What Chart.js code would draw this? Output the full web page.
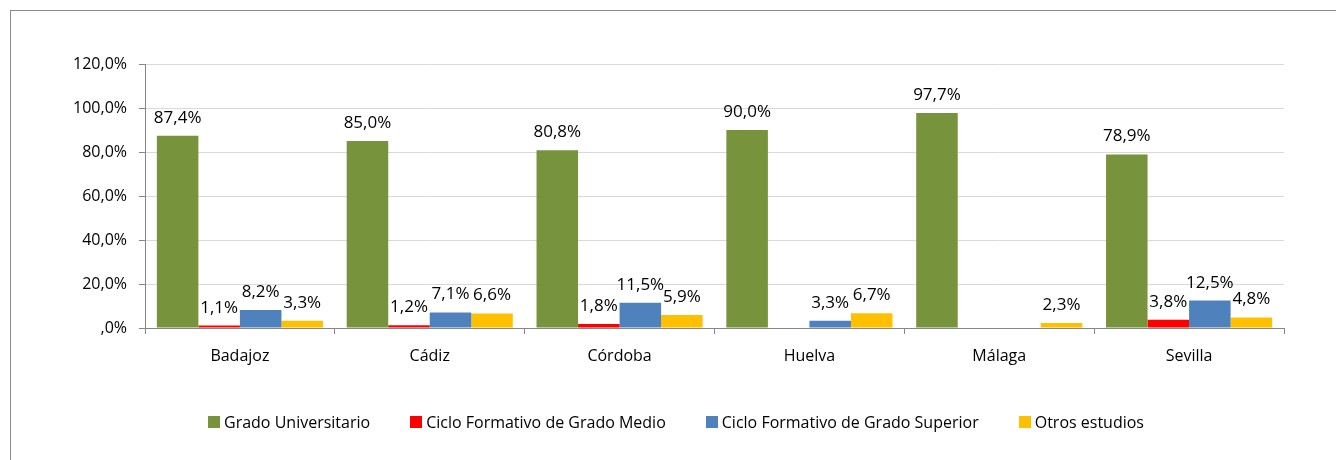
<!DOCTYPE html>
<html>
<head>
<meta charset="utf-8">
<script src="https://cdn.jsdelivr.net/npm/chart.js@4.4.1/dist/chart.umd.min.js"></script>
<style>
  html, body { margin: 0; padding: 0; background: #fff; overflow: hidden; }
  #wrap { position: absolute; left: 0; top: 0; width: 1336px; height: 460px; }
  #frame { position: absolute; left: 10px; top: 10px; width: 1400px; height: 500px; border: 1px solid #8c8c8c; box-sizing: border-box; }
  canvas { position: absolute; left: 0; top: 0; }
  #legend { position: absolute; top: 411px; left: 676px; transform: translateX(-50%); display: flex; gap: 40px; white-space: nowrap;
            font-family: 'Open Sans', Lato, sans-serif; font-size: 16px; color: #000; line-height: 22px; }
  #legend .item { display: flex; align-items: center; }
  #legend .box { width: 12px; height: 12px; margin-right: 4px; }
</style>
</head>
<body>
<div id="wrap">
  <div id="frame"></div>
  <canvas id="c" width="1336" height="460"></canvas>
  <div id="legend"></div>
</div>
<script>
const categories = ["Badajoz", "Cádiz", "Córdoba", "Huelva", "Málaga", "Sevilla"];
const seriesNames = ["Grado Universitario", "Ciclo Formativo de Grado Medio", "Ciclo Formativo de Grado Superior", "Otros estudios"];
const gradoUniversitario = [87.4, 85.0, 80.8, 90.0, 97.7, 78.9];
const cicloMedio = [1.1, 1.2, 1.8, null, null, 3.8];
const cicloSuperior = [8.2, 7.1, 11.5, 3.3, null, 12.5];
const otrosEstudios = [3.3, 6.6, 5.9, 6.7, 2.3, 4.8];
const seriesColors = ["#77933C", "#FF0000", "#4F81BD", "#FFC000"];

function fmt(v) {
  let s = v.toFixed(1).replace('.', ',');
  if (s.startsWith('0,')) s = s.substring(1);
  return s + '%';
}

const FONT = "'Open Sans', Lato, sans-serif";

const labelPlugin = {
  id: 'barLabels',
  afterDatasetsDraw(chart) {
    const ctx = chart.ctx;
    ctx.save();
    ctx.font = "17px " + FONT;
    ctx.fillStyle = "#000";
    ctx.textAlign = "center";
    ctx.textBaseline = "alphabetic";
    chart.data.datasets.forEach((ds, i) => {
      const meta = chart.getDatasetMeta(i);
      meta.data.forEach((bar, j) => {
        const v = ds.data[j];
        if (v === null || v === undefined) return;
        ctx.fillText(fmt(v), bar.x, bar.y - 13);
      });
    });
    ctx.restore();
  }
};

const htmlLegendPlugin = {
  id: 'htmlLegend',
  afterUpdate(chart) {
    const el = document.getElementById('legend');
    el.innerHTML = '';
    chart.options.plugins.legend.labels.generateLabels(chart).forEach(item => {
      const it = document.createElement('div');
      it.className = 'item';
      const box = document.createElement('span');
      box.className = 'box';
      box.style.background = item.fillStyle;
      const txt = document.createElement('span');
      txt.textContent = item.text;
      it.appendChild(box);
      it.appendChild(txt);
      el.appendChild(it);
    });
  }
};

const seriesData = [gradoUniversitario, cicloMedio, cicloSuperior, otrosEstudios];

new Chart(document.getElementById('c'), {
  type: 'bar',
  data: {
    labels: categories,
    datasets: seriesNames.map((n, i) => ({
      label: n,
      data: seriesData[i],
      backgroundColor: seriesColors[i],
      borderWidth: 0,
      categoryPercentage: 0.875,
      barPercentage: 1.0
    }))
  },
  options: {
    responsive: false,
    animation: false,
    devicePixelRatio: 1,
    layout: { padding: { top: 64, right: 52, left: 68, bottom: 82 } },
    plugins: {
      tooltip: { enabled: false },
      legend: { display: false }
    },
    scales: {
      x: {
        grid: { display: true, drawOnChartArea: false, drawTicks: true, tickLength: 6, offset: true, color: "#868686" },
        border: { display: true, color: "#868686", width: 1 },
        ticks: { font: { family: FONT, size: 16 }, color: "#000", padding: 13 },
        afterFit(scale) { scale.height = 50; }
      },
      y: {
        min: 0,
        max: 120,
        ticks: { stepSize: 20, font: { family: FONT, size: 16 }, color: "#000", padding: 12, callback: (v) => fmt(v) },
        grid: { color: "#d9d9d9", tickLength: 6, drawTicks: true, tickColor: "#868686" },
        border: { display: true, color: "#868686", width: 1 },
        afterFit(scale) { scale.width = 77; }
      }
    }
  },
  plugins: [labelPlugin, htmlLegendPlugin]
});
</script>
</body>
</html>
